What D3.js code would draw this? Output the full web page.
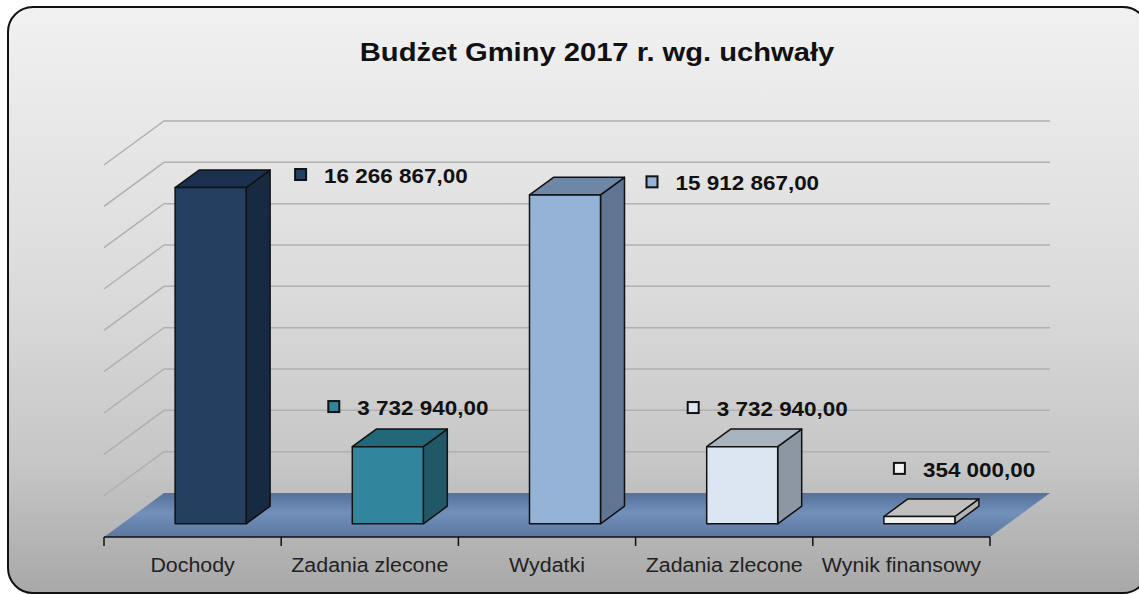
<!DOCTYPE html>
<html>
<head>
<meta charset="utf-8">
<script src="https://cdn.jsdelivr.net/npm/d3@7"></script>
<style>
body { margin:0; background:#fff; }
svg text { font-family:"Liberation Sans", Arial, sans-serif; }
</style>
</head>
<body>
<script>
// data
var categories = ["Dochody", "Zadania zlecone", "Wydatki", "Zadania zlecone", "Wynik finansowy"];
var values = [16266867.00, 3732940.00, 15912867.00, 3732940.00, 354000.00];
var valueLabels = ["16 266 867,00", "3 732 940,00", "15 912 867,00", "3 732 940,00", "354 000,00"];
var gridTicks = [2e6, 4e6, 6e6, 8e6, 10e6, 12e6, 14e6, 16e6, 18e6];

// colours per bar: front, top, side
var fronts = ["#243f60", "#31859c", "#95b3d7", "#dce6f2", "#f2f2f2"];
var tops   = ["#1c3150", "#23687a", "#6f87a6", "#a9b2bf", "#c0c0c0"];
var sides  = ["#182a42", "#215868", "#5f7591", "#8d97a4", "#b3b3b3"];
// label position relative to the bar's top-back-right corner
var labelDx = [25, -119, 22, -114, -85];
var labelDy = [13, -14, 13, -13, -22];

var W = 1139, H = 594;
var svg = d3.select("body").append("svg").attr("width", W).attr("height", H);

var defs = svg.append("defs");
var bg = defs.append("linearGradient").attr("id", "bg").attr("x1", 0).attr("y1", 0).attr("x2", 0).attr("y2", 1);
bg.append("stop").attr("offset", "0%").attr("stop-color", "#f1f1f1");
bg.append("stop").attr("offset", "50%").attr("stop-color", "#dadada");
bg.append("stop").attr("offset", "78%").attr("stop-color", "#c6c6c6");
bg.append("stop").attr("offset", "100%").attr("stop-color", "#a8a8a8");
var fl = defs.append("linearGradient").attr("id", "floor").attr("x1", 0).attr("y1", 0).attr("x2", 0).attr("y2", 1);
fl.append("stop").attr("offset", "0%").attr("stop-color", "#56719a");
fl.append("stop").attr("offset", "45%").attr("stop-color", "#7190ba");
fl.append("stop").attr("offset", "100%").attr("stop-color", "#5c77a0");

svg.append("rect").attr("x", 8).attr("y", 7).attr("width", 1140).attr("height", 586)
  .attr("rx", 25).attr("fill", "url(#bg)").attr("stroke", "#111").attr("stroke-width", 2);

// 3d frame
var left = 104, right = 990, floorY = 537;
var depthX = 60, depthY = 44;
var x = d3.scaleBand().domain(d3.range(categories.length)).range([left, right]).padding(0);
var h = d3.scaleLinear().domain([0, 18e6]).range([0, 372]);

var sx = 1.07; // text is slightly wide in the picture
function txt(g, tx, ty, s, k) {
  return g.append("text").attr("transform", "translate(" + tx + "," + ty + ") scale(" + (k || sx) + ",1)").text(s);
}

txt(svg, 597, 61, "Budżet Gminy 2017 r. wg. uchwały", 1.1)
  .attr("text-anchor", "middle").attr("font-size", 26.5).attr("font-weight", "bold").attr("fill", "#111");

// gridlines: left wall + back wall
var grid = svg.append("g").attr("stroke", "#b0b0b0").attr("stroke-width", 1.5).attr("fill", "none");
grid.selectAll("path").data(gridTicks).enter().append("path")
  .attr("d", function(v) {
    var y0 = floorY - h(v);
    return "M" + left + "," + y0 + "L" + (left + depthX) + "," + (y0 - depthY) + "L" + (right + depthX) + "," + (y0 - depthY);
  });

// floor
svg.append("path")
  .attr("d", "M" + left + "," + floorY + "L" + (left + depthX) + "," + (floorY - depthY) +
    "L" + (right + depthX) + "," + (floorY - depthY) + "L" + right + "," + floorY + "Z")
  .attr("fill", "url(#floor)");

// axis
var ax = svg.append("g").attr("stroke", "#111").attr("stroke-width", 1.5);
ax.append("line").attr("x1", left).attr("x2", right).attr("y1", floorY).attr("y2", floorY);
ax.selectAll(".tk").data(d3.range(categories.length + 1)).enter().append("line")
  .attr("x1", function(i) { return left + i * x.bandwidth(); })
  .attr("x2", function(i) { return left + i * x.bandwidth(); })
  .attr("y1", floorY).attr("y2", floorY + 9);
categories.forEach(function(c, i) {
  txt(svg, x(i) + x.bandwidth() / 2, 572, c).attr("text-anchor", "middle").attr("font-size", 20).attr("fill", "#222");
});

// bars
var f0 = 0.3, f1 = 0.7, bw = 71;
var bars = svg.append("g").attr("stroke", "#111").attr("stroke-width", 1.5).attr("stroke-linejoin", "round");
values.forEach(function(v, i) {
  var cx = x(i) + x.bandwidth() / 2 + f0 * depthX;
  var base = floorY - f0 * depthY;
  var x0 = cx - bw / 2, x1 = cx + bw / 2, yt = base - h(v);
  var ddx = (f1 - f0) * depthX, ddy = (f1 - f0) * depthY;
  bars.append("path").attr("fill", sides[i])
    .attr("d", "M" + x1 + "," + base + "L" + (x1 + ddx) + "," + (base - ddy) + "L" + (x1 + ddx) + "," + (yt - ddy) + "L" + x1 + "," + yt + "Z");
  bars.append("path").attr("fill", tops[i])
    .attr("d", "M" + x0 + "," + yt + "L" + (x0 + ddx) + "," + (yt - ddy) + "L" + (x1 + ddx) + "," + (yt - ddy) + "L" + x1 + "," + yt + "Z");
  bars.append("rect").attr("fill", fronts[i]).attr("x", x0).attr("y", yt).attr("width", bw).attr("height", base - yt);

  // data label
  var lx = x1 + ddx + labelDx[i], ly = yt - ddy + labelDy[i];
  svg.append("rect").attr("x", lx).attr("y", ly - 14).attr("width", 11).attr("height", 11)
    .attr("fill", fronts[i]).attr("stroke", "#111").attr("stroke-width", 2);
  txt(svg, lx + 29, ly, valueLabels[i]).attr("font-size", 21).attr("font-weight", "bold").attr("fill", "#111");
});
</script>
</body>
</html>
